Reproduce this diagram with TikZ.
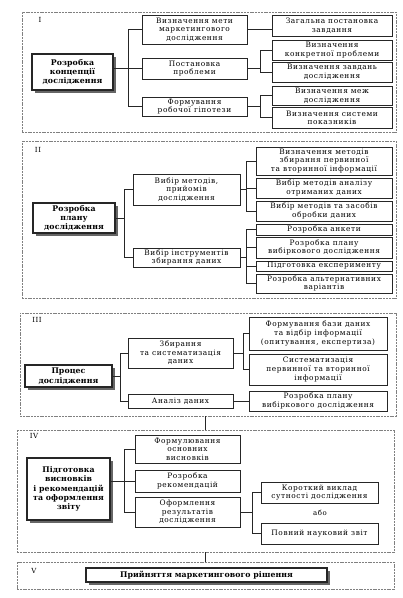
\documentclass[tikz,border=0pt]{standalone}
\usepackage{fontspec}
\setmainfont{DejaVu Serif}
\newfontfamily\boxfont{DejaVu Serif}[LetterSpace=8]
\newfontfamily\mainfont{DejaVu Serif}[LetterSpace=1]
\usetikzlibrary{shadows}
\tikzset{
 box/.style={draw=black!85, line width=0.7pt, inner sep=0.5pt, outer sep=0pt, align=center,
   font=\boxfont\fontsize{7.4}{8.6}\selectfont},
 mainbox/.style={box, line width=1.1pt, fill=white,
   font=\mainfont\fontsize{7.8}{9.4}\selectfont\bfseries,
   drop shadow={shadow xshift=2.5pt, shadow yshift=-2.5pt, fill=black!60, opacity=1}},
 frame/.style={draw=black!50, line width=0.8pt, dash pattern=on 2pt off 0.8pt, inner sep=0pt, outer sep=0pt},
 conn/.style={draw=black!85, line width=0.7pt},
 lbl/.style={font=\boxfont\fontsize{7}{8}\selectfont, inner sep=0pt}
}
\newcommand\bx[7]{\node[#6, minimum width={(#4-#2)*1pt}, minimum height={(#5-#3)*1pt}] (#1) at ({(#2+#4)/2},{(#3+#5)/2}) {#7};}
\begin{document}
\begin{tikzpicture}[x=1pt,y=-1pt]
\useasboundingbox[fill=white] (0,0) rectangle (403,598);
% ---------- I ----------
\bx{fr1}{22}{12}{396}{132}{frame}{}
\node[lbl] (l1) at (40,20) {I};
\bx{m1}{32}{54}{113}{90}{mainbox}{Розробка\\концепції\\дослідження}
\bx{a1}{142}{15}{247}{44}{box}{Визначення мети\\маркетингового\\дослідження}
\bx{a2}{142}{58}{247}{79}{box}{Постановка\\проблеми}
\bx{a3}{142}{97}{247}{116}{box}{Формування\\робочої гіпотези}
\bx{b1}{272}{15}{392}{36}{box}{Загальна постановка\\завдання}
\bx{b2}{272}{40}{392}{60}{box}{Визначення\\конкретної проблеми}
\bx{b3}{272}{62}{392}{82}{box}{Визначення завдань\\дослідження}
\bx{b4}{272}{86}{392}{105.5}{box}{Визначення меж\\дослідження}
\bx{b5}{272}{107.5}{392}{128}{box}{Визначення системи\\показників}
\coordinate (v1) at (128,0);
\coordinate (w1) at (260,0);
\draw[conn] (m1.east |- a2.west) -- (a2.west);
\draw[conn] (a1.west) -- (a1.west -| v1) -- (a3.west -| v1) -- (a3.west);
\draw[conn] (a1.east) -- (a1.east -| b1.west);
\draw[conn] (a2.east) -- (a2.east -| w1);
\draw[conn] (b2.west) -- (b2.west -| w1) -- (b3.west -| w1) -- (b3.west);
\draw[conn] (a3.east) -- (a3.east -| w1);
\draw[conn] (b4.west) -- (b4.west -| w1) -- (b5.west -| w1) -- (b5.west);
% ---------- II ----------
\bx{fr2}{22}{141}{396}{298}{frame}{}
\node[lbl] (l2) at (38,150) {II};
\bx{m2}{33}{203}{115}{233}{mainbox}{Розробка\\плану\\дослідження}
\bx{c1}{133}{174}{240}{205}{box}{Вибір методів,\\прийомів\\дослідження}
\bx{c2}{133}{248}{240}{267}{box}{Вибір інструментів\\збирання даних}
\bx{d1}{256}{147}{392}{175}{box}{Визначення методів\\збирання первинної\\та вторинної інформації}
\bx{d2}{256}{178}{392}{198}{box}{Вибір методів аналізу\\отриманих даних}
\bx{d3}{256}{201}{392}{221}{box}{Вибір методів та засобів\\обробки даних}
\bx{d4}{256}{224}{392}{235}{box}{Розробка анкети}
\bx{d5}{256}{237}{392}{258}{box}{Розробка плану\\вибіркового дослідження}
\bx{d6}{256}{261}{392}{271}{box}{Підготовка експерименту}
\bx{d7}{256}{274}{392}{293}{box}{Розробка альтернативних\\варіантів}
\coordinate (v2) at (124,0);
\coordinate (w2) at (246,0);
\draw[conn] (m2.east) -- (m2.east -| v2);
\draw[conn] (c1.west) -- (c1.west -| v2) -- (c2.west -| v2) -- (c2.west);
\draw[conn] (c1.east) -- (c1.east -| w2);
\draw[conn] (d1.west) -- (d1.west -| w2) -- (d3.west -| w2) -- (d3.west);
\draw[conn] (d2.west) -- (d2.west -| w2);
\draw[conn] (c2.east) -- (c2.east -| w2);
\draw[conn] (d4.west) -- (d4.west -| w2) -- (d7.west -| w2) -- (d7.west);
\draw[conn] (d5.west) -- (d5.west -| w2);
\draw[conn] (d6.west) -- (d6.west -| w2);
% ---------- III ----------
\bx{fr3}{20}{313}{396}{416}{frame}{}
\node[lbl] (l3) at (37,320) {III};
\bx{m3}{25}{365}{112}{387}{mainbox}{Процес\\дослідження}
\bx{f1}{128}{338}{233}{368}{box}{Збирання\\та систематизація\\даних}
\bx{f2}{128}{394}{233}{408}{box}{Аналіз даних}
\bx{g1}{249}{317}{387}{350}{box}{Формування бази даних\\та відбір інформації\\(опитування, експертиза)}
\bx{g2}{249}{354}{387}{385}{box}{Систематизація\\первинної та вторинної\\інформації}
\bx{g3}{249}{391}{387}{411}{box}{Розробка плану\\вибіркового дослідження}
\coordinate (v3) at (120,0);
\coordinate (w3) at (243,0);
\draw[conn] (m3.east) -- (m3.east -| v3);
\draw[conn] (f1.west) -- (f1.west -| v3) -- (f2.west -| v3) -- (f2.west);
\draw[conn] (f1.east) -- (f1.east -| w3);
\draw[conn] (g1.west) -- (g1.west -| w3) -- (g2.west -| w3) -- (g2.west);
\draw[conn] (f2.east) -- (f2.east -| g3.west);
% ---------- IV ----------
\bx{fr4}{17}{430}{394}{552}{frame}{}
\node[lbl] (l4) at (34,436) {IV};
\bx{m4}{27}{458}{110}{520}{mainbox}{Підготовка\\висновків\\і рекомендацій\\та оформлення\\звіту}
\bx{h1}{135}{435}{240}{463}{box}{Формулювання\\основних\\висновків}
\bx{h2}{135}{470}{240}{492}{box}{Розробка\\рекомендацій}
\bx{h3}{135}{497}{240}{527}{box}{Оформлення\\результатів\\дослідження}
\bx{k1}{261}{482}{378}{503}{box}{Короткий виклад\\сутності дослідження}
\bx{k2}{261}{523}{378}{544}{box}{Повний науковий звіт}
\node[lbl] (abo) at (320,513) {або};
\coordinate (v4) at (124,0);
\coordinate (w4) at (252,0);
\draw[conn] (m4.east |- h2.west) -- (h2.west);
\draw[conn] (h1.west) -- (h1.west -| v4) -- (h3.west -| v4) -- (h3.west);
\draw[conn] (h3.east) -- (h3.east -| w4);
\draw[conn] (k1.west) -- (k1.west -| w4) -- (k2.west -| w4) -- (k2.west);
% ---------- V ----------
\bx{fr5}{17}{562}{394}{589}{frame}{}
\node[lbl] (l5) at (34,571) {V};
\bx{n1}{86}{568}{327}{582}{mainbox}{Прийняття маркетингового рішення}
% ---------- links between stages ----------
\coordinate (xs) at (205,0);
\draw[conn] (fr3.south -| xs) -- (fr4.north -| xs);
\draw[conn] (fr4.south -| xs) -- (fr5.north -| xs);
\end{tikzpicture}
\end{document}
